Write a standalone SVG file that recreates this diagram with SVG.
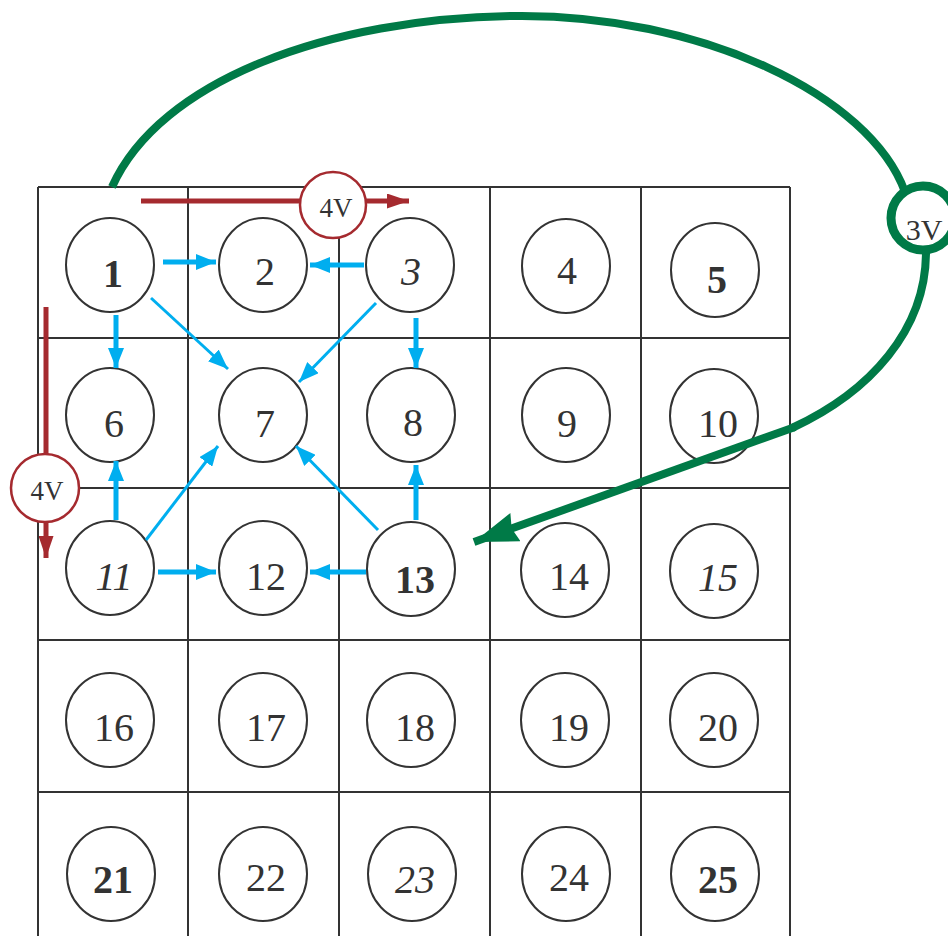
<svg xmlns="http://www.w3.org/2000/svg" width="948" height="936" viewBox="0 0 948 936">
<style>
.grid{stroke:#333;stroke-width:2;fill:none}
.node ellipse{fill:#fff;stroke:#333;stroke-width:2}
.node text{font-family:"Liberation Serif","Times New Roman",serif;font-size:40px;fill:#333;text-anchor:middle}
.b{font-weight:bold}
.i{font-style:italic}
.blue{stroke:#00AEEF;stroke-width:5;fill:none;marker-end:url(#mb)}
.blue.thin{stroke-width:3}
.red{stroke:#A52A2F;stroke-width:5;fill:none;marker-end:url(#mr)}
.green{stroke:#007A47;stroke-width:8;fill:none}
.lab{font-family:"Liberation Serif","Times New Roman",serif;fill:#333;text-anchor:middle}
</style>
<defs>
<marker id="mb" markerUnits="userSpaceOnUse" markerWidth="20" markerHeight="16" refX="20" refY="8" orient="auto"><path d="M0,0 L20,8 L0,16 z" fill="#00AEEF"/></marker>
<marker id="mr" markerUnits="userSpaceOnUse" markerWidth="22" markerHeight="15" refX="22" refY="7.5" orient="auto"><path d="M0,0 L22,7.5 L0,15 z" fill="#A52A2F"/></marker>
<marker id="mg" markerUnits="userSpaceOnUse" markerWidth="44" markerHeight="30" refX="44" refY="15" orient="auto"><path d="M0,0 L44,15 L0,30 L4,15 z" fill="#007A47"/></marker>
</defs>
<rect width="948" height="936" fill="#fff"/>
<g id="grid" class="grid">
<path d="M38,187 V936 M188,187 V936 M339,187 V936 M490,187 V936 M641,187 V936 M790,187 V936"/>
<path d="M38,187 H790 M38,338 H790 M38,488 H790 M38,640 H790 M38,792 H790"/>
</g>
<g id="n1" class="node"><ellipse cx="110" cy="265" rx="44" ry="47"/><text x="113" y="287" class="b">1</text></g>
<g id="n2" class="node"><ellipse cx="263" cy="265" rx="44" ry="47"/><text x="265" y="285">2</text></g>
<g id="n3" class="node"><ellipse cx="410" cy="265" rx="44" ry="47"/><text x="411" y="285" class="i">3</text></g>
<g id="n4" class="node"><ellipse cx="566" cy="266" rx="44" ry="47"/><text x="567" y="284">4</text></g>
<g id="n5" class="node"><ellipse cx="715" cy="270" rx="44" ry="47"/><text x="717" y="293" class="b">5</text></g>
<g id="n6" class="node"><ellipse cx="110" cy="415" rx="44" ry="47"/><text x="114" y="437">6</text></g>
<g id="n7" class="node"><ellipse cx="263" cy="415" rx="44" ry="47"/><text x="265" y="437">7</text></g>
<g id="n8" class="node"><ellipse cx="411" cy="415" rx="44" ry="47"/><text x="413" y="436">8</text></g>
<g id="n9" class="node"><ellipse cx="566" cy="415" rx="44" ry="47"/><text x="567" y="437">9</text></g>
<g id="n10" class="node"><ellipse cx="714" cy="416" rx="44" ry="47"/><text x="718" y="437">10</text></g>
<g id="n11" class="node"><ellipse cx="110" cy="568" rx="44" ry="47"/><text x="114" y="590" class="i">11</text></g>
<g id="n12" class="node"><ellipse cx="263" cy="568" rx="44" ry="47"/><text x="266" y="590">12</text></g>
<g id="n13" class="node"><ellipse cx="411" cy="569" rx="44" ry="47"/><text x="415" y="593" class="b">13</text></g>
<g id="n14" class="node"><ellipse cx="565" cy="570" rx="44" ry="47"/><text x="569" y="590">14</text></g>
<g id="n15" class="node"><ellipse cx="714" cy="571" rx="44" ry="47"/><text x="718" y="591" class="i">15</text></g>
<g id="n16" class="node"><ellipse cx="110" cy="720" rx="44" ry="47"/><text x="114" y="741">16</text></g>
<g id="n17" class="node"><ellipse cx="263" cy="720" rx="44" ry="47"/><text x="266" y="741">17</text></g>
<g id="n18" class="node"><ellipse cx="411" cy="720" rx="44" ry="47"/><text x="415" y="741">18</text></g>
<g id="n19" class="node"><ellipse cx="565" cy="720" rx="44" ry="47"/><text x="569" y="741">19</text></g>
<g id="n20" class="node"><ellipse cx="714" cy="720" rx="44" ry="47"/><text x="718" y="741">20</text></g>
<g id="n21" class="node"><ellipse cx="111" cy="874" rx="44" ry="47"/><text x="113" y="893" class="b">21</text></g>
<g id="n22" class="node"><ellipse cx="263" cy="874" rx="44" ry="47"/><text x="266" y="891">22</text></g>
<g id="n23" class="node"><ellipse cx="412" cy="874" rx="44" ry="47"/><text x="415" y="893" class="i">23</text></g>
<g id="n24" class="node"><ellipse cx="566" cy="874" rx="44" ry="47"/><text x="569" y="891">24</text></g>
<g id="n25" class="node"><ellipse cx="715" cy="874" rx="44" ry="47"/><text x="718" y="893" class="b">25</text></g>
<g id="connectors">
<path class="blue" d="M163,262 H216"/>
<path class="blue" d="M364,265 H310"/>
<path class="blue" d="M116,315 V368"/>
<path class="blue" d="M416,318 V368"/>
<path class="blue thin" d="M151,298 L228,369"/>
<path class="blue thin" d="M376,303 L299,382"/>
<path class="blue" d="M116,520 V461"/>
<path class="blue thin" d="M146,540 L218,446"/>
<path class="blue" d="M158,572 H216"/>
<path class="blue" d="M366,572 H310"/>
<path class="blue" d="M416,520 V465"/>
<path class="blue thin" d="M378,530 L296,446"/>
<path class="red" d="M141,201 H409"/>
<path class="red" d="M46,307 V558"/>
<path class="green" d="M112,187 C160,80 330,18 515,16 C700,14 870,95 905,192"/>
<path class="green" d="M926,252 C926,330 870,392 792,428"/>
<path class="green" d="M795,427 L474,542" marker-end="url(#mg)"/>
</g>
<g id="v4h"><circle cx="333" cy="205" r="33" fill="#fff" stroke="#A52A2F" stroke-width="2.5"/><text class="lab" x="336" y="217" font-size="27">4V</text></g>
<g id="v4v"><circle cx="45" cy="488" r="34" fill="#fff" stroke="#A52A2F" stroke-width="2.5"/><text class="lab" x="47" y="500" font-size="27">4V</text></g>
<g id="v3"><circle cx="923" cy="218" r="32" fill="#fff" stroke="#007A47" stroke-width="9"/><text class="lab" x="924" y="240" font-size="30">3V</text></g>
</svg>
